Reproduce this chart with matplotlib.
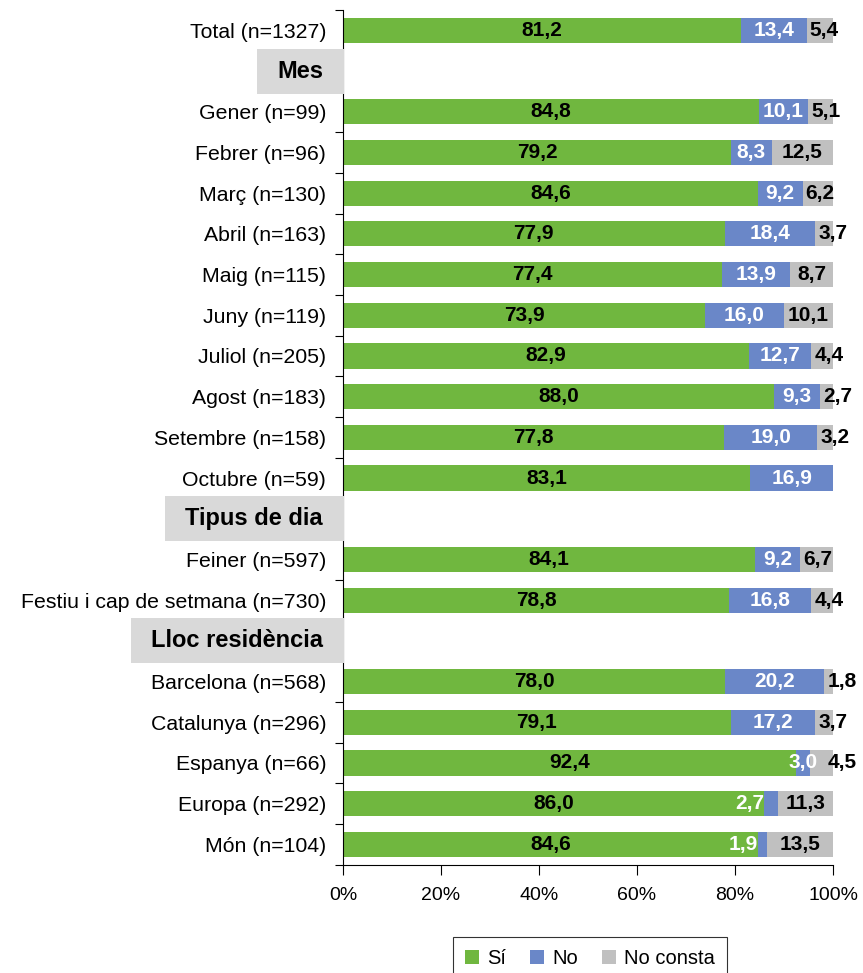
import matplotlib
matplotlib.use('Agg')
import matplotlib.pyplot as plt
import matplotlib.transforms as mtransforms
from matplotlib.patches import Rectangle
import numpy as np

plt.rcParams['font.family'] = ['Liberation Sans', 'DejaVu Sans']

# Rows from top to bottom; header names mark section rows
rows = ['Total (n=1327)', 'Mes',
        'Gener (n=99)', 'Febrer (n=96)', 'Març (n=130)', 'Abril (n=163)',
        'Maig (n=115)', 'Juny (n=119)', 'Juliol (n=205)', 'Agost (n=183)',
        'Setembre (n=158)', 'Octubre (n=59)', 'Tipus de dia',
        'Feiner (n=597)', 'Festiu i cap de setmana (n=730)', 'Lloc residència',
        'Barcelona (n=568)', 'Catalunya (n=296)', 'Espanya (n=66)',
        'Europa (n=292)', 'Món (n=104)']
headers = ['Mes', 'Tipus de dia', 'Lloc residència']

si = [81.2, None, 84.8, 79.2, 84.6, 77.9, 77.4, 73.9, 82.9, 88.0, 77.8, 83.1,
      None, 84.1, 78.8, None, 78.0, 79.1, 92.4, 86.0, 84.6]
no = [13.4, None, 10.1, 8.3, 9.2, 18.4, 13.9, 16.0, 12.7, 9.3, 19.0, 16.9,
      None, 9.2, 16.8, None, 20.2, 17.2, 3.0, 2.7, 1.9]
no_consta = [5.4, None, 5.1, 12.5, 6.2, 3.7, 8.7, 10.1, 4.4, 2.7, 3.2, 0.0,
             None, 6.7, 4.4, None, 1.8, 3.7, 4.5, 11.3, 13.5]

series = ['Sí', 'No', 'No consta']
colors = ['#70b73f', '#6a87c8', '#c0c0c0']
label_colors = ['black', 'white', 'black']

W, H = 863, 973
fig = plt.figure(figsize=(W / 100, H / 100), dpi=100)
ax = fig.add_axes([343 / W, 1 - 864.7 / H, 490 / W, 854.7 / H])

ypos = np.arange(len(rows))
data_idx = [i for i, r in enumerate(rows) if r not in headers]

left = np.zeros(len(data_idx))
prev = None
for s, (name, vals) in enumerate(zip(series, [si, no, no_consta])):
    v = np.array([vals[i] for i in data_idx])
    ax.barh(ypos[data_idx], v, left=left, height=0.62, color=colors[s],
            label=name, zorder=2)
    for k, i in enumerate(data_idx):
        if v[k] <= 0:
            continue
        x = left[k] + v[k] / 2
        ha = 'center'
        if s == 1 and v[k] < 3:
            # very thin blue segment: label sits just before it
            x, ha = left[k], 'right'
        if s == 2:
            # narrow grey segments: label does not start before the segment
            x = max(x, left[k] + 3.6)
            if prev[k] < 5 and prev[k] >= 3:
                x = max(x, left[k] - prev[k] / 2 + 8)
        ax.text(x, i, f'{v[k]:.1f}'.replace('.', ','), ha=ha, va='center',
                fontsize=15, fontweight='bold', color=label_colors[s], zorder=4)
    prev = v
    left = left + v

ax.set_xlim(0, 100)
ax.set_ylim(len(rows) - 0.5, -0.5)
ax.set_xticks(np.arange(0, 101, 20))
ax.set_xticklabels([f'{t}%' for t in range(0, 101, 20)], fontsize=14)
ax.set_yticks(ypos)
ax.set_yticklabels(['' if r in headers else r for r in rows], fontsize=15.3)
ax.set_yticks(np.arange(-0.5, len(rows), 1), minor=True)
ax.tick_params(axis='y', which='major', length=0, pad=12)
ax.tick_params(axis='y', which='minor', length=6, width=0.8, direction='out')
ax.tick_params(axis='x', length=7, width=0.8, direction='out', pad=9)
for side in ['top', 'right']:
    ax.spines[side].set_visible(False)
for side in ['left', 'bottom']:
    ax.spines[side].set_linewidth(0.8)

# Section headers with grey boxes covering the axis
trans = mtransforms.blended_transform_factory(ax.transAxes, ax.transData)
hdr_texts = []
for h in headers:
    i = rows.index(h)
    t = ax.annotate(h, xy=(0, i), xycoords=trans, xytext=(-20, 0),
                    textcoords='offset pixels', ha='right', va='center',
                    fontsize=17, fontweight='bold', zorder=6,
                    annotation_clip=False)
    hdr_texts.append((t, i))

fig.canvas.draw()
renderer = fig.canvas.get_renderer()
ax_bb = ax.get_window_extent()
for t, i in hdr_texts:
    bb = t.get_window_extent(renderer)
    yc = ax.transData.transform((0, i))[1]
    x0 = bb.x0 - 20
    x1 = ax_bb.x0 + 1
    rect = Rectangle((x0 / W, (yc - 22.5) / H), (x1 - x0) / W, 45 / H,
                     transform=fig.transFigure, facecolor='#d9d9d9',
                     edgecolor='none', zorder=5)
    fig.add_artist(rect)
    t.remove()
    fig.text(bb.x1 / W, yc / H, t.get_text(), ha='right', va='center',
             fontsize=17, fontweight='bold', zorder=7)

leg = fig.legend(loc='upper center', bbox_to_anchor=(590 / W, 1 - 937 / H),
                 ncol=3, fontsize=14.5, frameon=True, fancybox=False,
                 handlelength=0.7, handleheight=0.7, handletextpad=0.4,
                 columnspacing=1.2, borderpad=0.6, borderaxespad=0,
                 edgecolor='black')
leg.get_frame().set_linewidth(0.8)

fig.savefig('out.png', dpi=100)
